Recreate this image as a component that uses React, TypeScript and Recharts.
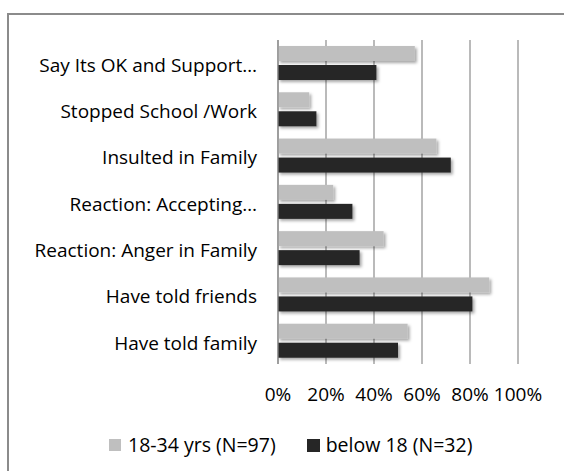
import React from 'react';
import { BarChart, Bar, XAxis, YAxis, CartesianGrid } from 'recharts';

// Category labels, top to bottom
const categories = [
  'Say Its OK and Support…',
  'Stopped School /Work',
  'Insulted in Family',
  'Reaction: Accepting…',
  'Reaction: Anger in Family',
  'Have told friends',
  'Have told family',
];

// Share of respondents (%) per group
const age18to34 = [57, 13, 66, 23, 44, 88, 54];
const below18 = [41, 16, 72, 31, 34, 81, 50];

const percentTicks = [0, 20, 40, 60, 80, 100];

const seriesNames = ['18-34 yrs (N=97)', 'below 18 (N=32)'];
const LIGHT = '#bfbfbf';
const DARK = '#262626';
const FONT = '"Open Sans", "Noto Sans", sans-serif';

const data = categories.map((name, i) => ({
  name,
  young: age18to34[i],
  minor: below18[i],
}));

const ShadowBar = (props: any) => {
  const { x, y, width, height, fill } = props;
  if (width == null || width <= 0) return null;
  return <rect x={x} y={y} width={width} height={height} fill={fill} filter="url(#barShadow)" />;
};

const SeriesLegend = () => (
  <div
    style={{
      position: 'absolute',
      left: 109,
      top: 432,
      display: 'flex',
      alignItems: 'center',
      fontFamily: FONT,
      fontSize: 19.5,
      lineHeight: '26px',
      color: '#000',
      whiteSpace: 'nowrap',
    }}
  >
    <span style={{ width: 12, height: 12, background: LIGHT, display: 'inline-block', marginRight: 7 }} />
    <span style={{ marginRight: 31 }}>{seriesNames[0]}</span>
    <span style={{ width: 13, height: 13, background: DARK, display: 'inline-block', marginRight: 6 }} />
    <span>{seriesNames[1]}</span>
  </div>
);

export default function App() {
  return (
    <div style={{ position: 'absolute', left: 0, top: 0, width: 564, height: 471, overflow: 'hidden', background: '#fff' }}>
      <div
        style={{
          position: 'absolute',
          left: 7,
          top: 13,
          width: 700,
          height: 600,
          border: '2px solid #8b8b8b',
        }}
      />
      <div style={{ position: 'absolute', left: 0, top: 0 }}>
        <BarChart
          width={564}
          height={471}
          data={data}
          layout="vertical"
          margin={{ top: 40, right: 46, bottom: 47, left: 0 }}
          barSize={15}
          barGap={4}
        >
          <defs>
            <filter id="barShadow" x="-10%" y="-30%" width="130%" height="180%">
              <feDropShadow dx="2" dy="2" stdDeviation="1.6" floodColor="#000" floodOpacity="0.35" />
            </filter>
          </defs>
          <CartesianGrid horizontal={false} stroke="#8c8c8c" strokeWidth={1.2} />
          <XAxis
            type="number"
            domain={[0, 100]}
            ticks={percentTicks}
            tickFormatter={(v: number) => `${v}%`}
            axisLine={false}
            tickLine={false}
            tickSize={0}
            tickMargin={24}
            height={60}
            interval={0}
            tick={{ fill: '#000', fontSize: 19, fontFamily: FONT }}
          />
          <YAxis
            type="category"
            dataKey="name"
            width={278}
            axisLine={{ stroke: '#8c8c8c', strokeWidth: 1.2 }}
            tickLine={false}
            tickSize={0}
            tickMargin={21}
            interval={0}
            tick={{ fill: '#000', fontSize: 19, fontFamily: FONT, dy: 2 }}
          />
          <Bar dataKey="young" name={seriesNames[0]} fill={LIGHT} shape={ShadowBar} isAnimationActive={false} />
          <Bar dataKey="minor" name={seriesNames[1]} fill={DARK} shape={ShadowBar} isAnimationActive={false} />
        </BarChart>
      </div>
      <SeriesLegend />
    </div>
  );
}
